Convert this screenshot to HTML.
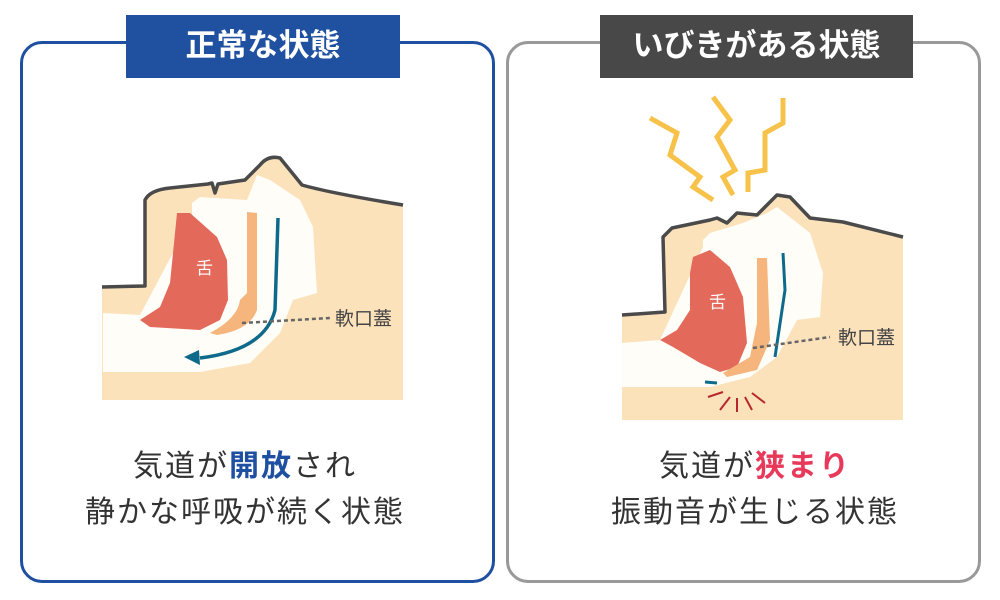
<!DOCTYPE html>
<html><head><meta charset="utf-8"><style>
html,body{margin:0;padding:0;background:#fff;}
body{width:1000px;height:600px;position:relative;overflow:hidden;font-family:"Liberation Sans","Noto Sans CJK JP",sans-serif;}
.box{position:absolute;border-radius:22px;box-sizing:border-box;}
.title{position:absolute;color:#fff;font-weight:bold;font-size:31px;text-align:center;line-height:62px;}
.txt{position:absolute;text-align:center;color:#333;font-size:30px;line-height:46px;letter-spacing:2px;}
</style></head><body>
<div class="box" style="left:20px;top:41px;width:475px;height:542px;border:3px solid #1f4fa0;"></div>
<div class="box" style="left:506px;top:41px;width:475px;height:542px;border:3px solid #999;"></div>
<div class="title" style="left:126px;top:15px;width:274px;height:63px;background:#2050a0;">正常な状態</div>
<div class="title" style="left:600px;top:15px;width:313px;height:63px;background:#484848;">いびきがある状態</div>

<svg width="1000" height="600" style="position:absolute;left:0;top:0">
<!-- left -->
<path d="M102,287 L145,286 L145,200 Q150,190 170,188 L208,184 L212,183 L215,193 L218,184 L245,180 L260,165 Q268,155 280,158 L302,185 Q330,193 403,205 L403,400 L102,400 Z" fill="#fbe2bb"/>
<path d="M192,203 L200,197 L247,200 L257,175 L270,180 L300,200 L313,227 L317,293 L293,300 L280,333 L250,363 L200,372 L103,372 L103,313 L140,315 L192,217 Z" fill="#fffdf8"/>
<path d="M177,213 L190,213 L217,237 L227,260 L228,300 L220,320 L200,330 L150,327 L140,320 L160,307 L170,283 L175,233 Z" fill="#e36a5a"/>
<path d="M247,212 L257,213 L257,310 Q250,330 217,335 L210,333 Q238,318 240,300 L247,293 Z" fill="#f5b57c"/>
<path d="M102,287 L145,286 L145,200 Q150,190 170,188 L208,184 L212,183 L215,193 L218,184 L245,180 L260,165 Q268,155 280,158 L302,185 Q330,193 403,205" fill="none" stroke="#4a4a4a" stroke-width="3.5" stroke-linejoin="round"/>
<path d="M278,218 L275,310 Q265,350 200,358" fill="none" stroke="#0e6a8a" stroke-width="3.5"/>
<path d="M184,357 L199,350 L200,365 Z" fill="#0e6a8a"/>
<line x1="242" y1="323" x2="330" y2="318" stroke="#666" stroke-width="2.5" stroke-dasharray="4,3"/>
<text x="196" y="274" font-size="17" fill="#fff" font-family="Noto Sans CJK JP">舌</text>
<text x="335" y="325" font-size="19" fill="#444" font-family="Noto Sans CJK JP">軟口蓋</text>
<!-- right -->
<path d="M622,315 L665,312 L663,237 L672,228 L710,220 L717,218 L727,223 L737,213 L757,215 L777,195 L790,197 L810,218 L843,222 L903,237 L903,420 L622,420 Z" fill="#fbe2bb"/>
<path d="M703,240 L710,233 L743,223 L767,213 L777,207 L810,233 L823,273 L820,317 L797,320 L777,357 L750,377 L710,387 L622,387 L622,343 L660,340 L703,247 Z" fill="#fffdf8"/>
<path d="M693,257 L710,250 L730,267 L743,297 L747,343 L737,367 L720,372 L700,363 L673,347 L660,340 L677,330 L690,310 L690,273 Z" fill="#e36a5a"/>
<path d="M757,258 L767,258 L770,340 L757,370 L727,377 L723,373 L750,357 L757,323 Z" fill="#f5b57c"/>
<path d="M622,315 L665,312 L663,237 L672,228 L710,220 L717,218 L727,223 L737,213 L757,215 L777,195 L790,197 L810,218 L843,222 L903,237" fill="none" stroke="#4a4a4a" stroke-width="3.5" stroke-linejoin="round"/>
<path d="M783,253 L785,290 L775,357" fill="none" stroke="#0e6a8a" stroke-width="3"/>
<line x1="705" y1="382" x2="717" y2="383" stroke="#0e6a8a" stroke-width="3"/>
<g stroke="#b8272f" stroke-width="2">
<line x1="708" y1="397" x2="723" y2="392"/><line x1="720" y1="410" x2="730" y2="397"/><line x1="737" y1="412" x2="737" y2="398"/><line x1="752" y1="410" x2="745" y2="397"/><line x1="765" y1="403" x2="752" y2="393"/>
</g>
<g fill="none" stroke="#f7c24a" stroke-width="5" stroke-linejoin="miter">
<polyline points="650,118 677,133 670,155 700,177 693,187 713,200"/>
<polyline points="713,97 730,120 717,137 735,170 723,177 733,195"/>
<polyline points="783,98 783,123 765,133 765,170 748,173 748,192"/>
</g>
<line x1="753" y1="348" x2="830" y2="337" stroke="#666" stroke-width="2.5" stroke-dasharray="4,3"/>
<text x="709" y="308" font-size="17" fill="#fff" font-family="Noto Sans CJK JP">舌</text>
<text x="838" y="344" font-size="19" fill="#444" font-family="Noto Sans CJK JP">軟口蓋</text>
</svg>

<div class="txt" style="left:6px;top:444px;width:478px;">気道が<b style="color:#1f4fa0">開放</b>され<br>静かな呼吸が続く状態</div>
<div class="txt" style="left:516px;top:444px;width:478px;">気道が<b style="color:#e8395a">狭まり</b><br>振動音が生じる状態</div>
</body></html>
